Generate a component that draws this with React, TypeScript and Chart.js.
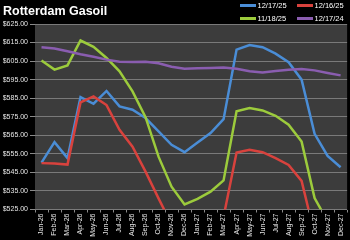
import React, { useEffect, useRef } from "react";
import { Chart, registerables } from "chart.js";

Chart.register(...registerables);

const TITLE = "Rotterdam Gasoil";

const categories = [
  "Jan-26", "Feb-26", "Mar-26", "Apr-26", "May-26", "Jun-26", "Jul-26", "Aug-26",
  "Sep-26", "Oct-26", "Nov-26", "Dec-26", "Jan-27", "Feb-27", "Mar-27", "Apr-27",
  "May-27", "Jun-27", "Jul-27", "Aug-27", "Sep-27", "Oct-27", "Nov-27", "Dec-27",
];

const seriesNames = ["12/17/25", "12/16/25", "11/18/25", "12/17/24"];

const s20251217 = [550.3, 561.3, 552.7, 585.6, 582, 588.9, 580.6, 578.8, 574.3, 567.1, 559.9, 555.9,
  561.1, 566.2, 573.7, 611.2, 613.7, 612.5, 609, 604.4, 595, 565.8, 553.9, 547.8];
const s20251216 = [550, 549.8, 549.2, 582.7, 586, 581.3, 568, 558.9, 545.4, 531, 517, 512,
  510, 514, 521, 555.7, 557.2, 555.9, 552.7, 549, 540.4, 511.6, 505, 500];
const s20251118 = [605.3, 600.4, 602.7, 616.1, 612.7, 606.7, 599.5, 588.7, 574.8, 553.5, 537.3, 527.7,
  530.7, 534.6, 540.7, 577.9, 579.7, 578.4, 575.5, 570.7, 561.6, 531.2, 518.6, 510];
const s20241217 = [612.5, 611.8, 610.3, 608.7, 607.3, 605.8, 604.7, 604.5, 604.7, 603.8, 602, 600.9,
  601.1, 601.3, 601.5, 600.9, 599.5, 598.9, 599.7, 600.4, 600.8, 600, 598.6, 597.3];

const yMin = 525;
const yMax = 625;
const yStep = 10;

const colors = ["#4A8DD6", "#D8423D", "#9CCB3C", "#8A5DB0"];

export default function App() {
  const ref = useRef<HTMLCanvasElement | null>(null);

  useEffect(() => {
    document.body.style.margin = "0";
    document.body.style.background = "#000";
    const canvas = ref.current;
    if (!canvas) return;

    const bgPlugin = {
      id: "bg",
      beforeDraw(chart: any) {
        const { ctx, chartArea } = chart;
        ctx.save();
        ctx.fillStyle = "#000";
        ctx.fillRect(0, 0, chart.width, chart.height);
        ctx.fillStyle = "#3c3c3c";
        ctx.fillRect(chartArea.left, chartArea.top, chartArea.right - chartArea.left, chartArea.bottom - chartArea.top);
        ctx.restore();
      },
    };

    const headPlugin = {
      id: "head",
      afterDraw(chart: any) {
        const { ctx } = chart;
        ctx.save();
        ctx.fillStyle = "#ffffff";
        ctx.font = "bold 12.5px 'Liberation Sans', Arial, sans-serif";
        ctx.textBaseline = "alphabetic";
        ctx.textAlign = "left";
        ctx.fillText(TITLE, 3, 15);
        ctx.font = "7.5px 'Liberation Sans', Arial, sans-serif";
        ctx.textBaseline = "middle";
        const cols = [240, 297];
        const rows = [5.5, 18.5];
        chart.data.datasets.forEach((ds: any, i: number) => {
          const x = cols[i % 2];
          const y = rows[Math.floor(i / 2)];
          ctx.strokeStyle = ds.borderColor;
          ctx.lineWidth = 3;
          ctx.beginPath();
          ctx.moveTo(x, y);
          ctx.lineTo(x + 16, y);
          ctx.stroke();
          ctx.fillStyle = "#ffffff";
          ctx.fillText(ds.label, x + 17.5, y + 0.5);
        });
        ctx.restore();
      },
    };

    const data = [s20251217, s20251216, s20251118, s20241217];

    const chart = new Chart(canvas, {
      type: "line",
      data: {
        labels: categories,
        datasets: data.map((d, i) => ({
          label: seriesNames[i],
          data: d,
          borderColor: colors[i],
          backgroundColor: colors[i],
          borderWidth: 2.5,
          pointRadius: 0,
          tension: 0,
          fill: false,
          clip: 0,
          order: 4 - i,
        })),
      },
      options: {
        animation: false,
        responsive: false,
        devicePixelRatio: 1,
        layout: { padding: { top: 24, left: 0, right: 0, bottom: 0 } },
        plugins: { legend: { display: false }, title: { display: false }, tooltip: { enabled: false } },
        scales: {
          x: {
            offset: true,
            afterFit(scale: any) { scale.height = 30.5; },
            grid: { drawOnChartArea: false, drawTicks: true, tickLength: 3, color: "#8a8a8a", offset: true },
            border: { display: false },
            ticks: {
              autoSkip: false, minRotation: 90, maxRotation: 90, padding: 1,
              color: "#e6e6e6", font: { size: 7, family: "'Liberation Sans', Arial, sans-serif" },
            },
          },
          y: {
            min: yMin,
            max: yMax,
            afterFit(scale: any) { scale.width = 35; },
            grid: { color: "#7a7a7a", tickColor: "#8a8a8a", tickLength: 5, lineWidth: 1 },
            border: { display: false },
            ticks: {
              stepSize: yStep, padding: 2,
              color: "#e6e6e6", font: { size: 7, family: "'Liberation Sans', Arial, sans-serif" },
              callback: (v: any) => "$" + Number(v).toFixed(2),
            },
          },
        },
      },
      plugins: [bgPlugin, headPlugin],
    });

    return () => chart.destroy();
  }, []);

  return (
    <div style={{ width: 350, height: 240, background: "#000" }}>
      <canvas ref={ref} width={350} height={240} style={{ display: "block" }} />
    </div>
  );
}
